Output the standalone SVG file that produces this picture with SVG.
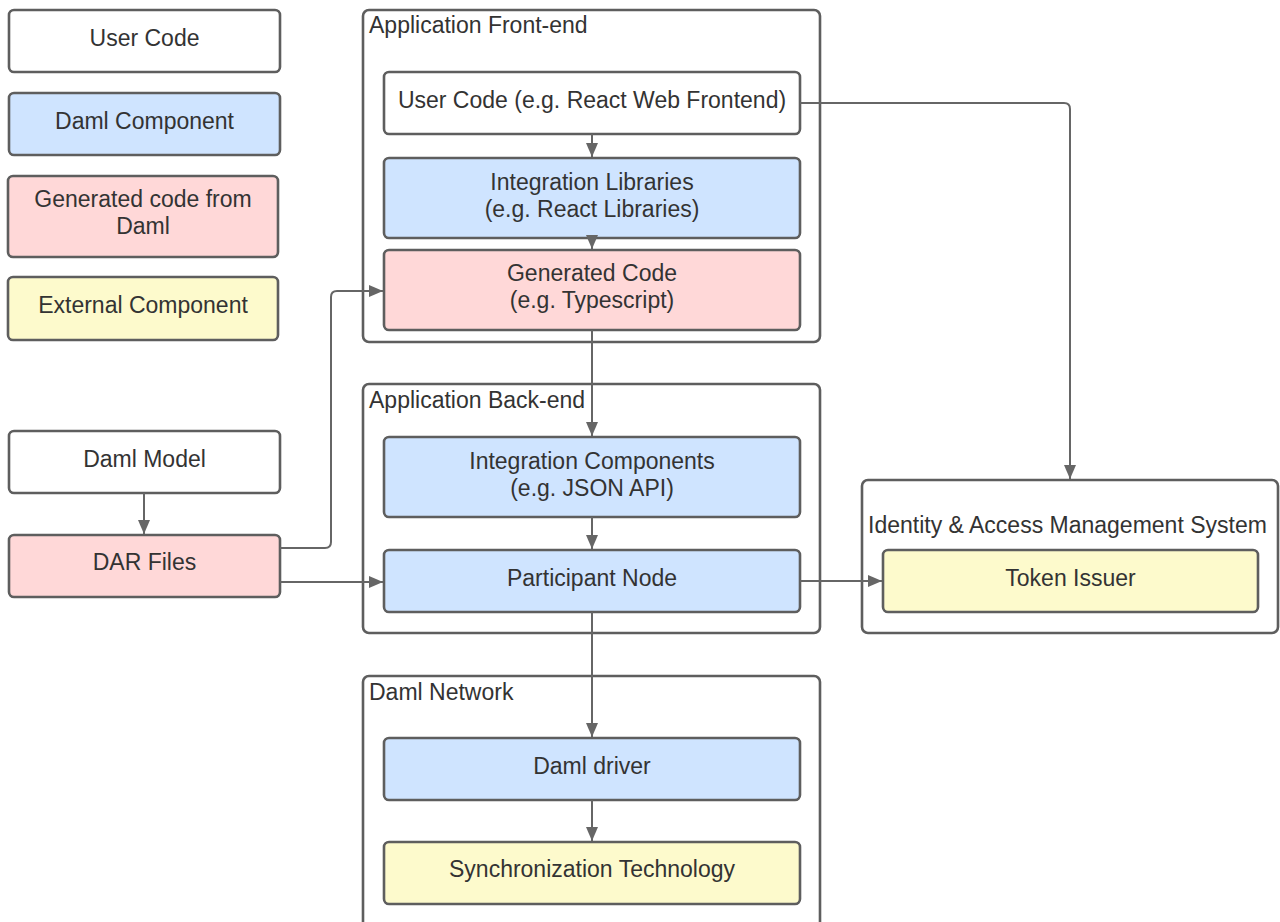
<svg xmlns="http://www.w3.org/2000/svg" width="1280" height="922" viewBox="0 0 1280 922">
<style>
.box{stroke:#5e5e5e;stroke-width:2.6}
.ct{fill:#fff;stroke:#5e5e5e;stroke-width:2.6}
.w{fill:#fff}.b{fill:#cfe4ff}.p{fill:#ffd8d8}.y{fill:#fdfacc}
text{font-family:"Liberation Sans",Arial,sans-serif;font-size:23px;fill:#333}
.c{text-anchor:middle;dominant-baseline:central}
.e{stroke:#666;stroke-width:2;fill:none}
</style>
<defs>
<marker id="ah" viewBox="0 0 14 12" refX="14" refY="6" markerWidth="14" markerHeight="12" markerUnits="userSpaceOnUse" orient="auto">
<path d="M0,0 L14,6 L0,12 z" fill="#666"/>
</marker>
</defs>
<rect width="1280" height="922" fill="#fff"/>
<g id="legend-user-code"><rect class="box w" x="9" y="10" width="271" height="62" rx="5"/><text class="c" x="144.5" y="38">User Code</text></g>
<g id="legend-daml-component"><rect class="box b" x="9" y="93" width="271" height="62" rx="5"/><text class="c" x="144.5" y="121">Daml Component</text></g>
<g id="legend-generated"><rect class="box p" x="8" y="176" width="270" height="81" rx="5"/><text class="c" x="143" y="199">Generated code from</text><text class="c" x="143" y="226">Daml</text></g>
<g id="legend-external"><rect class="box y" x="8" y="277" width="270" height="63" rx="5"/><text class="c" x="143" y="305">External Component</text></g>

<g id="frontend"><rect class="ct" x="363" y="10" width="457" height="332" rx="6"/><text x="369" y="33">Application Front-end</text></g>
<g id="backend"><rect class="ct" x="363" y="384" width="457" height="249" rx="6"/><text x="369" y="408">Application Back-end</text></g>
<g id="network"><rect class="ct" x="363" y="676" width="457" height="260" rx="6"/><text x="369" y="700">Daml Network</text></g>
<g id="iam"><rect class="ct" x="862" y="480" width="416" height="153" rx="6"/><text x="868" y="533">Identity &amp; Access Management System</text></g>

<g id="user-code"><rect class="box w" x="384" y="72" width="416" height="62" rx="5"/><text class="c" x="592" y="100">User Code (e.g. React Web Frontend)</text></g>
<g id="integration-libraries"><rect class="box b" x="384" y="158" width="416" height="80" rx="5"/><text class="c" x="592" y="182">Integration Libraries</text><text class="c" x="592" y="209">(e.g. React Libraries)</text></g>
<g id="generated-code"><rect class="box p" x="384" y="250" width="416" height="80" rx="5"/><text class="c" x="592" y="273">Generated Code</text><text class="c" x="592" y="300">(e.g. Typescript)</text></g>
<g id="integration-components"><rect class="box b" x="384" y="437" width="416" height="80" rx="5"/><text class="c" x="592" y="461">Integration Components</text><text class="c" x="592" y="488">(e.g. JSON API)</text></g>
<g id="participant-node"><rect class="box b" x="384" y="550" width="416" height="62" rx="5"/><text class="c" x="592" y="578">Participant Node</text></g>
<g id="daml-driver"><rect class="box b" x="384" y="738" width="416" height="62" rx="5"/><text class="c" x="592" y="766">Daml driver</text></g>
<g id="sync-tech"><rect class="box y" x="384" y="842" width="416" height="62" rx="5"/><text class="c" x="592" y="869">Synchronization Technology</text></g>
<g id="token-issuer"><rect class="box y" x="883" y="550" width="375" height="62" rx="5"/><text class="c" x="1070.5" y="578">Token Issuer</text></g>
<g id="daml-model"><rect class="box w" x="9" y="431" width="271" height="62" rx="5"/><text class="c" x="144.5" y="459">Daml Model</text></g>
<g id="dar-files"><rect class="box p" x="9" y="535" width="271" height="62" rx="5"/><text class="c" x="144.5" y="562">DAR Files</text></g>

<g id="connectors">
<path class="e" marker-end="url(#ah)" d="M592,134 V157"/>
<path class="e" marker-end="url(#ah)" d="M592,238 V249"/>
<path class="e" marker-end="url(#ah)" d="M592,330 V436"/>
<path class="e" marker-end="url(#ah)" d="M592,517 V549"/>
<path class="e" marker-end="url(#ah)" d="M592,612 V737"/>
<path class="e" marker-end="url(#ah)" d="M592,800 V841"/>
<path class="e" marker-end="url(#ah)" d="M144,493 V534"/>
<path class="e" marker-end="url(#ah)" d="M800,103 H1064 Q1070,103 1070,109 V479"/>
<path class="e" marker-end="url(#ah)" d="M800,581 H882"/>
<path class="e" marker-end="url(#ah)" d="M280,582 H383"/>
<path class="e" marker-end="url(#ah)" d="M280,548 H325 Q331,548 331,542 V297 Q331,291 337,291 H383"/>
</g>
</svg>
